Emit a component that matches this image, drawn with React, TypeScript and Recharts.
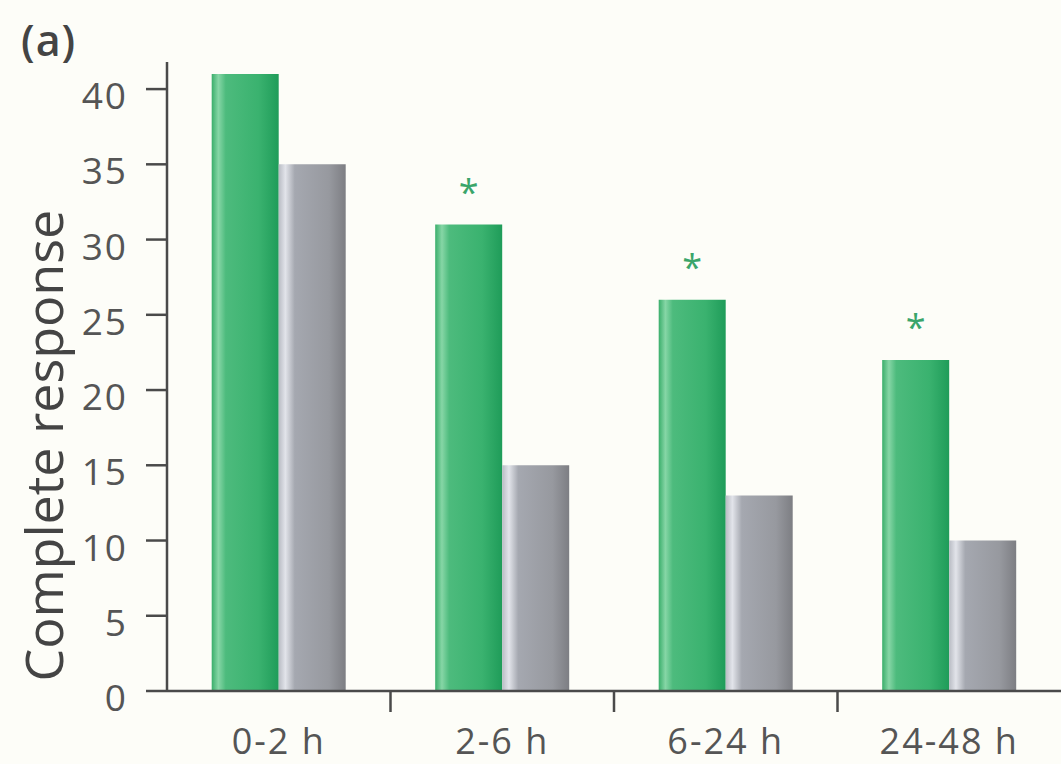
import { BarChart, Bar, XAxis, YAxis, LabelList } from "recharts";

// complete response rate by time window after dosing
const windows = ["0-2 h", "2-6 h", "6-24 h", "24-48 h"];
const treated = [41, 31, 26, 22];
const placebo = [35, 15, 13, 10];
const significant = ["", "*", "*", "*"];
const yTicks = [0, 5, 10, 15, 20, 25, 30, 35, 40];

const data = windows.map((w, i) => ({
  window: w,
  treated: treated[i],
  placebo: placebo[i],
  mark: significant[i],
}));

const font = "'Open Sans', 'DejaVu Sans', sans-serif";
const axisColor = "#4a4a4a";
const textColor = "#555";

function Star(props: any) {
  const { x, y, width, value } = props;
  if (!value) return null;
  return (
    <text
      x={x + width / 2}
      y={y - 20}
      textAnchor="middle"
      fontSize={36}
      fontFamily={font}
      fill="#3aa56a"
    >
      {value}
    </text>
  );
}

// category label, plus a short separator mark on the left edge of each band after the first
function WindowTick(props: any) {
  const { x, y, payload, index } = props;
  const edge = x - (payload.offset || 0);
  return (
    <g>
      {index > 0 && (
        <line x1={edge} y1={y} x2={edge} y2={y + 21} stroke={axisColor} strokeWidth={2.5} />
      )}
      <text
        x={x}
        y={y + 37}
        dy="0.71em"
        textAnchor="middle"
        fontSize={36}
        fontFamily={font}
        letterSpacing={2}
        fill={textColor}
      >
        {payload.value}
      </text>
    </g>
  );
}

function YTitle(props: any) {
  const { viewBox } = props;
  const cx = viewBox.x + 63;
  const cy = viewBox.y + viewBox.height * 0.61;
  return (
    <text
      x={cx}
      y={cy}
      transform={`rotate(-90, ${cx}, ${cy})`}
      textAnchor="middle"
      fontSize={52}
      fontFamily={font}
      fill="#444"
    >
      Complete response
    </text>
  );
}

export default function App() {
  return (
    <div
      style={{
        position: "absolute",
        left: 0,
        top: 0,
        width: 1061,
        height: 764,
        background: "#fdfdf8",
      }}
    >
      <div
        style={{
          position: "absolute",
          left: 21,
          top: 10,
          fontSize: 43,
          fontWeight: 600,
          letterSpacing: 1,
          fontFamily: font,
          color: "#444",
        }}
      >
        (a)
      </div>
      <BarChart
        width={1061}
        height={764}
        data={data}
        margin={{ top: 62, right: 0, left: 0, bottom: 0 }}
        barCategoryGap="20%"
        barGap={0}
      >
        <defs>
          <linearGradient id="greenBar" x1="0" y1="0" x2="1" y2="0">
            <stop offset="0%" stopColor="#3aae6b" />
            <stop offset="10%" stopColor="#86d6a6" />
            <stop offset="21%" stopColor="#4dbb7d" />
            <stop offset="70%" stopColor="#3ab26f" />
            <stop offset="100%" stopColor="#1f9c59" />
          </linearGradient>
          <linearGradient id="grayBar" x1="0" y1="0" x2="1" y2="0">
            <stop offset="0%" stopColor="#b9bcc4" />
            <stop offset="10%" stopColor="#e2e4ea" />
            <stop offset="24%" stopColor="#a5a8b0" />
            <stop offset="75%" stopColor="#97999f" />
            <stop offset="100%" stopColor="#7d7e83" />
          </linearGradient>
        </defs>
        <XAxis
          dataKey="window"
          height={73}
          axisLine={{ stroke: axisColor, strokeWidth: 2.5 }}
          tickLine={false}
          tickSize={0}
          tickMargin={0}
          interval={0}
          tick={<WindowTick />}
        />
        <YAxis
          width={167}
          domain={[0, 41.8]}
          ticks={yTicks}
          axisLine={{ stroke: axisColor, strokeWidth: 2.5 }}
          tickLine={{ stroke: axisColor, strokeWidth: 2.5 }}
          tickSize={21}
          tickMargin={18}
          tick={{ fill: textColor, fontSize: 37, fontFamily: font, dy: 7, letterSpacing: 2 }}
          label={<YTitle />}
        />
        <Bar dataKey="treated" fill="url(#greenBar)" isAnimationActive={false}>
          <LabelList dataKey="mark" content={<Star />} />
        </Bar>
        <Bar dataKey="placebo" fill="url(#grayBar)" isAnimationActive={false} />
      </BarChart>
    </div>
  );
}
